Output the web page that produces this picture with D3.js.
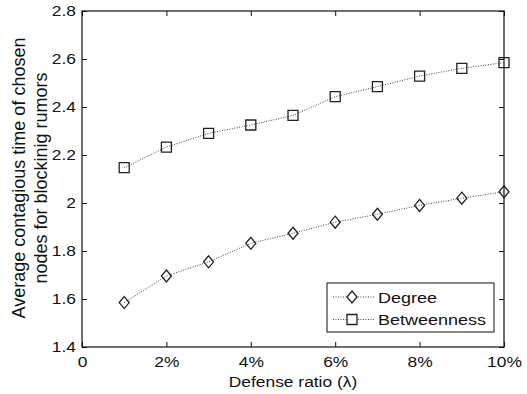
<!DOCTYPE html>
<html>
<head>
<meta charset="utf-8">
<script src="https://cdn.jsdelivr.net/npm/d3@7"></script>
<style>
  body { margin: 0; background: #fff; }
  text { font-family: "Liberation Sans", Arial, sans-serif; fill: #111; }
</style>
</head>
<body>
<div class="chart"></div>
<script>
// data
var ratios = [1, 2, 3, 4, 5, 6, 7, 8, 9, 10];
var degree = [1.585, 1.696, 1.755, 1.832, 1.874, 1.92, 1.953, 1.99, 2.02, 2.047];
var betweenness = [2.147, 2.233, 2.29, 2.325, 2.365, 2.443, 2.485, 2.529, 2.561, 2.585];
var xTicks = [0, 2, 4, 6, 8, 10];
var yTicks = [1.4, 1.6, 1.8, 2, 2.2, 2.4, 2.6, 2.8];
var seriesNames = ["Degree", "Betweenness"];

var width = 527, height = 394;
var margin = {top: 11, right: 23, bottom: 47, left: 82};
var w = width - margin.left - margin.right;
var h = height - margin.top - margin.bottom;
var sx = 1.2; // the figure's text is a bit stretched sideways

var svg = d3.select(".chart").append("svg")
    .attr("width", width)
    .attr("height", height);

var g = svg.append("g")
    .attr("transform", "translate(" + margin.left + "," + margin.top + ")");

var x = d3.scaleLinear().domain([0, 10]).range([0, w]);
var y = d3.scaleLinear().domain([1.4, 2.8]).range([h, 0]);

// axes (ticks point inward, mirrored on top/right)
var fmtX = function(d) { return d === 0 ? "0" : d + "%"; };
var fmtY = function(d) { return String(+d.toFixed(1)); };

g.append("g")
    .attr("class", "xaxis")
    .attr("transform", "translate(0," + h + ")")
    .call(d3.axisBottom(x).tickValues(xTicks).tickFormat(fmtX).tickSizeInner(-5).tickSizeOuter(0).tickPadding(10));
g.append("g")
    .attr("class", "yaxis")
    .call(d3.axisLeft(y).tickValues(yTicks).tickFormat(fmtY).tickSizeInner(-5).tickSizeOuter(0).tickPadding(5));
g.append("g")
    .call(d3.axisTop(x).tickValues(xTicks).tickFormat("").tickSizeInner(-5).tickSizeOuter(0));
g.append("g")
    .attr("transform", "translate(" + w + ",0)")
    .call(d3.axisRight(y).tickValues(yTicks).tickFormat("").tickSizeInner(-5).tickSizeOuter(0));

g.selectAll(".domain").remove();
g.selectAll(".tick line").attr("stroke", "#111");
g.selectAll(".tick text")
    .style("font-size", "14.5px")
    .attr("fill", "#111")
    .attr("transform", "scale(" + sx + ",1)");
g.selectAll(".yaxis .tick text").attr("x", -6 / sx);

// frame
g.append("rect")
    .attr("width", w).attr("height", h)
    .attr("fill", "none").attr("stroke", "#111").attr("stroke-width", 1.2);

// lines + markers
var line = d3.line()
    .x(function(d, i) { return x(ratios[i]); })
    .y(function(d) { return y(d); });

var diamond = function(cx, cy) {
  return "M" + cx + "," + (cy - 6) + "L" + (cx + 5) + "," + cy + "L" + cx + "," + (cy + 6) + "L" + (cx - 5) + "," + cy + "Z";
};
var square = function(cx, cy) {
  return "M" + (cx - 5) + "," + (cy - 5) + "h10v10h-10Z";
};

[degree, betweenness].forEach(function(vals, k) {
  g.append("path")
    .datum(vals)
    .attr("d", line)
    .attr("fill", "none")
    .attr("stroke", "#444")
    .attr("stroke-width", 1)
    .attr("stroke-dasharray", "1,1.5");
  g.selectAll(".m" + k)
    .data(vals)
    .enter()
    .append("path")
    .attr("class", "m" + k)
    .attr("d", function(d, i) { return (k === 0 ? diamond : square)(x(ratios[i]), y(d)); })
    .attr("fill", "none")
    .attr("stroke", "#222")
    .attr("stroke-width", 1.3);
});

// legend
var leg = svg.append("g").attr("transform", "translate(327,283)");
leg.append("rect")
    .attr("width", 167).attr("height", 49)
    .attr("fill", "#fff").attr("stroke", "#111").attr("stroke-width", 1);
seriesNames.forEach(function(name, k) {
  var ly = 14 + k * 22.5;
  leg.append("line")
    .attr("x1", 6).attr("x2", 48).attr("y1", ly).attr("y2", ly)
    .attr("stroke", "#444").attr("stroke-dasharray", "1,1.5");
  leg.append("path")
    .attr("d", (k === 0 ? diamond : square)(25, ly))
    .attr("fill", "#fff").attr("stroke", "#222").attr("stroke-width", 1.3);
  leg.append("text")
    .attr("transform", "translate(51," + (ly + 5.5) + ") scale(" + sx + ",1)")
    .style("font-size", "15px")
    .text(name);
});

// axis titles
svg.append("text")
    .attr("transform", "translate(" + (margin.left + w / 2) + ",387) scale(" + sx + ",1)")
    .attr("text-anchor", "middle")
    .style("font-size", "14.5px")
    .text("Defense ratio (\u03bb)");

var yt = svg.append("text")
    .attr("transform", "translate(25,178) rotate(-90)")
    .attr("text-anchor", "middle")
    .style("font-size", "18px");
yt.append("tspan").attr("x", 0).attr("dy", 0).text("Average contagious time of chosen");
yt.append("tspan").attr("x", 0).attr("dy", 22).text("nodes for blockinig rumors");
</script>
</body>
</html>
